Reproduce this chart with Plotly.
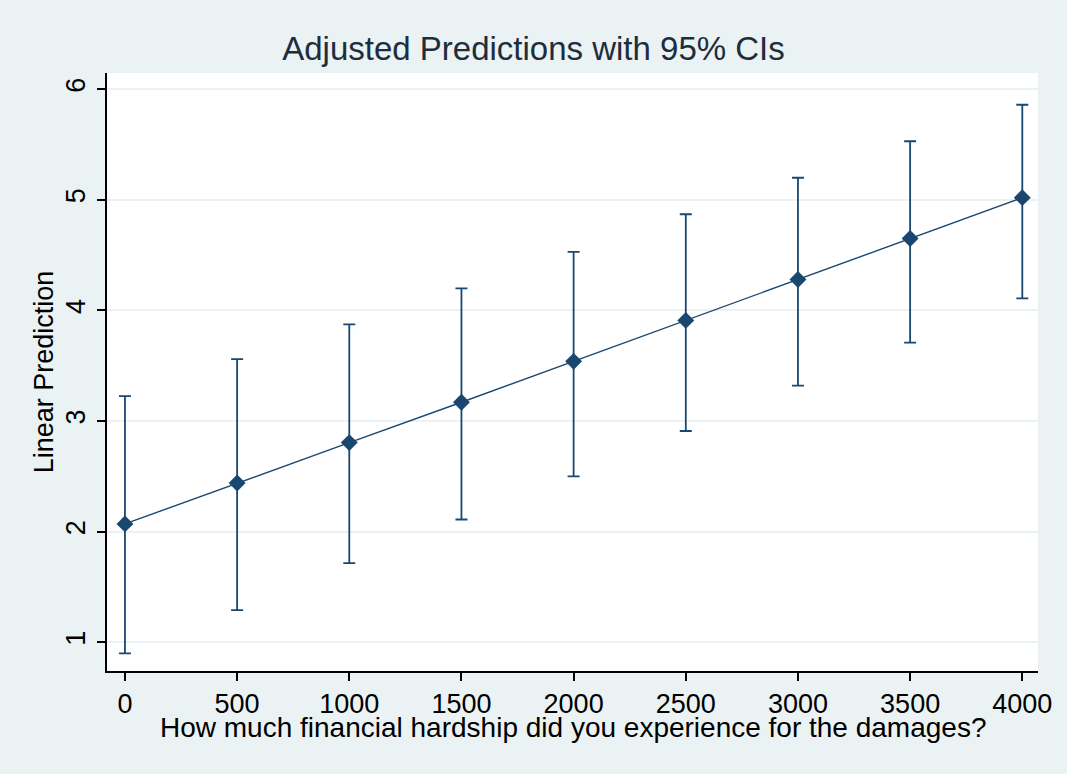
import plotly.graph_objects as go

hardship = [0, 500, 1000, 1500, 2000, 2500, 3000, 3500, 4000]
prediction = [2.07, 2.44, 2.805, 3.17, 3.54, 3.91, 4.28, 4.65, 5.02]
ci_upper = [3.225, 3.56, 3.875, 4.20, 4.53, 4.87, 5.20, 5.53, 5.86]
ci_lower = [0.90, 1.29, 1.716, 2.11, 2.50, 2.91, 3.32, 3.71, 4.11]

x_ticks = [0, 500, 1000, 1500, 2000, 2500, 3000, 3500, 4000]
y_ticks = [1, 2, 3, 4, 5, 6]

navy = "#1a476f"
bg = "#eaf2f3"
font_family = "Liberation Sans, Arial, sans-serif"

W, H = 1067, 774
ML, MR, MT, MB = 107, 29, 73, 103
plot_h = H - MT - MB

err_plus = [u - p for u, p in zip(ci_upper, prediction)]
err_minus = [p - l for p, l in zip(prediction, ci_lower)]

fig = go.Figure()
fig.add_trace(go.Scatter(
    x=hardship, y=prediction,
    mode="lines+markers",
    line=dict(color=navy, width=1.4),
    marker=dict(symbol="diamond", size=13, color=navy),
    error_y=dict(type="data", symmetric=False, array=err_plus, arrayminus=err_minus,
                 color=navy, thickness=1.8, width=6),
    showlegend=False,
))

fig.add_annotation(
    text="How much financial hardship did you experience for the damages?",
    xref="paper", yref="paper", x=0.5, xanchor="center",
    y=-(727 - (H - MB)) / plot_h, yanchor="middle",
    showarrow=False, font=dict(size=28, color="black", family=font_family),
)

fig.update_layout(
    width=W, height=H,
    paper_bgcolor=bg, plot_bgcolor="white",
    margin=dict(l=ML, r=MR, t=MT, b=MB),
    font=dict(family=font_family, color="black"),
    title=dict(text="Adjusted Predictions with 95% CIs", x=0.5, xanchor="center",
               y=1 - 48 / H, yanchor="middle",
               font=dict(size=33, color="#1e2d3c", family=font_family)),
    xaxis=dict(
        range=[-80, 4070], tickvals=x_ticks, ticktext=[str(v) for v in x_ticks],
        showgrid=False, zeroline=False,
        showline=True, linecolor="black", linewidth=2,
        ticks="outside", ticklen=8, tickwidth=2, tickcolor="black",
        ticklabelstandoff=0,
        tickfont=dict(size=27, color="black"),
    ),
    yaxis=dict(
        range=[0.74, 6.147], tickvals=y_ticks, ticktext=[str(v) for v in y_ticks],
        showgrid=True, gridcolor=bg, gridwidth=1.5, zeroline=False,
        showline=True, linecolor="black", linewidth=2,
        ticks="outside", ticklen=8, tickwidth=2, tickcolor="black",
        tickangle=-90, ticklabelstandoff=1,
        tickfont=dict(size=27, color="black"),
        title=dict(text="Linear Prediction", font=dict(size=27, color="black"), standoff=0),
    ),
)

fig.write_html("out.html", config={"displayModeBar": False},
               post_script="document.body.style.margin='0';document.body.style.overflow='hidden';")
